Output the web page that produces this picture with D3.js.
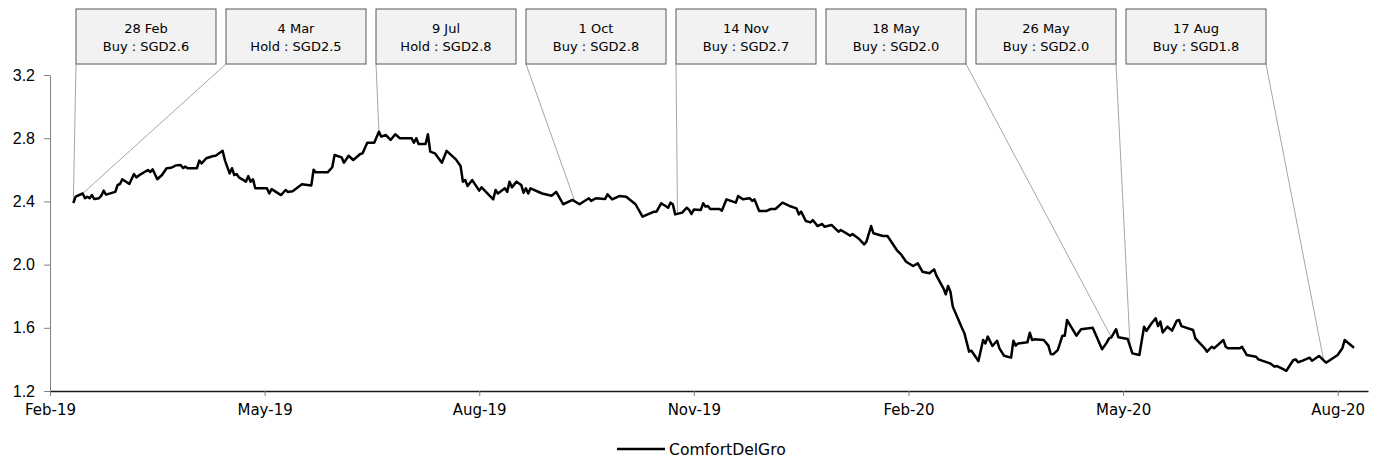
<!DOCTYPE html>
<html>
<head>
<meta charset="utf-8">
<script src="https://cdn.jsdelivr.net/npm/d3@7"></script>
<style>
  body { margin: 0; background: #ffffff; }
  .x-axis text { font-family: "DejaVu Sans", sans-serif; font-size: 15px; fill: #000; }
  .y-axis text { font-family: "Liberation Sans", Arial, sans-serif; font-size: 16px; fill: #000; }
  .note text { font-family: "DejaVu Sans", sans-serif; font-size: 13px; fill: #000; }
</style>
</head>
<body>
<div id="chart"></div>
<script>
//Series data: trading-day offsets from the first close and the closing price (SGD)
var startDate = "2019-02-28";
var dayOffsets = [0, 1, 4, 5, 6, 7, 8, 9, 11, 12, 13, 14, 18, 19, 20, 21, 24, 26, 27, 29, 32, 33, 34, 36, 38, 40, 42, 44, 46, 47, 48, 49, 53, 54, 55, 57, 60, 61, 64, 65, 67, 68, 69, 70, 71, 74, 75, 76, 77, 78, 83, 84, 85, 89, 91, 92, 94, 98, 102, 103, 104, 109, 111, 112, 115, 116, 118, 120, 123, 124, 126, 129, 131, 132, 134, 136, 138, 140, 145, 146, 147, 148, 151, 152, 153, 155, 158, 160, 164, 166, 167, 168, 169, 171, 174, 175, 180, 181, 182, 185, 186, 187, 188, 190, 192, 193, 194, 195, 196, 201, 205, 207, 210, 214, 217, 221, 222, 224, 228, 229, 231, 234, 237, 241, 244, 249, 250, 252, 255, 256, 257, 258, 261, 263, 264, 265, 266, 269, 270, 271, 272, 273, 277, 278, 280, 284, 285, 287, 290, 291, 292, 294, 297, 299, 301, 304, 307, 310, 311, 312, 314, 316, 317, 319, 321, 322, 325, 327, 328, 329, 333, 334, 337, 339, 340, 342, 343, 347, 349, 353, 355, 357, 360, 362, 364, 367, 369, 370, 373, 374, 375, 376, 377, 381, 382, 384, 385, 388, 390, 391, 392, 394, 396, 397, 399, 402, 403, 404, 405, 409, 410, 411, 412, 416, 418, 419, 420, 422, 424, 425, 426, 430, 432, 437, 441, 443, 444, 445, 447, 448, 452, 454, 457, 459, 460, 462, 464, 465, 466, 467, 469, 471, 473, 474, 475, 480, 481, 485, 486, 488, 489, 493, 494, 495, 500, 501, 503, 507, 508, 513, 515, 516, 518, 520, 523, 524, 525, 527, 530, 531, 534, 537, 542, 544, 545, 549];
var closes = [2.39, 2.43, 2.45, 2.42, 2.43, 2.42, 2.44, 2.415, 2.42, 2.436, 2.468, 2.443, 2.46, 2.504, 2.51, 2.54, 2.51, 2.573, 2.552, 2.573, 2.599, 2.586, 2.603, 2.54, 2.567, 2.61, 2.613, 2.628, 2.63, 2.611, 2.62, 2.61, 2.61, 2.658, 2.641, 2.673, 2.687, 2.689, 2.72, 2.66, 2.577, 2.61, 2.567, 2.573, 2.552, 2.525, 2.56, 2.525, 2.54, 2.483, 2.483, 2.45, 2.478, 2.44, 2.472, 2.46, 2.464, 2.508, 2.5, 2.6, 2.584, 2.584, 2.616, 2.694, 2.679, 2.645, 2.689, 2.662, 2.7, 2.704, 2.771, 2.771, 2.841, 2.81, 2.82, 2.789, 2.825, 2.8, 2.8, 2.771, 2.8, 2.763, 2.763, 2.825, 2.715, 2.704, 2.645, 2.72, 2.666, 2.624, 2.525, 2.535, 2.497, 2.535, 2.468, 2.489, 2.413, 2.472, 2.45, 2.483, 2.46, 2.525, 2.489, 2.525, 2.504, 2.455, 2.483, 2.45, 2.483, 2.45, 2.436, 2.46, 2.382, 2.409, 2.382, 2.42, 2.403, 2.42, 2.415, 2.445, 2.413, 2.434, 2.43, 2.382, 2.303, 2.335, 2.335, 2.388, 2.36, 2.392, 2.382, 2.318, 2.329, 2.36, 2.346, 2.32, 2.349, 2.346, 2.388, 2.367, 2.371, 2.352, 2.352, 2.341, 2.413, 2.392, 2.434, 2.413, 2.42, 2.403, 2.413, 2.339, 2.339, 2.352, 2.352, 2.392, 2.371, 2.356, 2.318, 2.335, 2.276, 2.267, 2.282, 2.244, 2.257, 2.24, 2.251, 2.223, 2.208, 2.219, 2.183, 2.194, 2.16, 2.128, 2.145, 2.244, 2.198, 2.181, 2.181, 2.092, 2.061, 2.018, 1.991, 2.008, 1.955, 1.945, 1.97, 1.93, 1.85, 1.812, 1.865, 1.828, 1.734, 1.597, 1.565, 1.449, 1.455, 1.39, 1.523, 1.501, 1.544, 1.485, 1.518, 1.47, 1.423, 1.411, 1.518, 1.487, 1.501, 1.508, 1.569, 1.523, 1.527, 1.523, 1.487, 1.434, 1.432, 1.459, 1.55, 1.55, 1.649, 1.55, 1.591, 1.601, 1.464, 1.506, 1.533, 1.54, 1.591, 1.54, 1.529, 1.438, 1.428, 1.607, 1.58, 1.624, 1.66, 1.611, 1.639, 1.571, 1.607, 1.582, 1.645, 1.649, 1.611, 1.586, 1.533, 1.47, 1.449, 1.48, 1.47, 1.523, 1.48, 1.47, 1.47, 1.48, 1.428, 1.417, 1.4, 1.375, 1.354, 1.358, 1.343, 1.328, 1.396, 1.4, 1.382, 1.392, 1.411, 1.392, 1.422, 1.379, 1.428, 1.47, 1.523, 1.474];

//Axis ticks
var xTickDates = ["2019-02-18", "2019-05-21", "2019-08-21", "2019-11-21", "2020-02-21", "2020-05-23", "2020-08-23"];
var xDomain = ["2019-02-18", "2020-09-05"];
var yTicks = [1.2, 1.6, 2.0, 2.4, 2.8, 3.2];

//Rating call-outs
var noteDates = ["2019-02-28", "2019-03-04", "2019-07-09", "2019-10-01", "2019-11-14", "2020-05-18", "2020-05-26", "2020-08-17"];
var noteLabels = ["28 Feb", "4 Mar", "9 Jul", "1 Oct", "14 Nov", "18 May", "26 May", "17 Aug"];
var noteRatings = ["Buy", "Hold", "Hold", "Buy", "Buy", "Buy", "Buy", "Buy"];
var notePrices = ["2.6", "2.5", "2.8", "2.8", "2.7", "2.0", "2.0", "1.8"];

var seriesName = "ComfortDelGro";

//SVG size
var svgWidth = 1380;
var svgHeight = 461;

var svg = d3.select("#chart")
  .append("svg")
  .attr("width", svgWidth)
  .attr("height", svgHeight);

svg.append("rect")
  .attr("width", svgWidth)
  .attr("height", svgHeight)
  .attr("fill", "#ffffff");

var parseDate = d3.utcParse("%Y-%m-%d");
var start = parseDate(startDate);

var prices = dayOffsets.map(function(d, i) {
  return { date: d3.utcDay.offset(start, d), close: closes[i] };
});

//Scales
var xScale = d3.scaleUtc()
  .domain(xDomain.map(parseDate))
  .range([50, 1368]);

var yScale = d3.scaleLinear()
  .domain([1.2, 3.2])
  .range([391, 75]);

//Y axis
var yAxis = svg.append("g")
  .classed("y-axis", true)
  .attr("transform", "translate(50,0)")
  .call(d3.axisLeft(yScale)
    .tickValues(yTicks)
    .tickFormat(d3.format(".1f"))
    .tickSize(6)
    .tickSizeOuter(0)
    .tickPadding(9));

yAxis.select(".domain").attr("stroke", "#808080");
yAxis.selectAll(".tick line").attr("stroke", "#808080");

//X axis
var xAxis = svg.append("g")
  .classed("x-axis", true)
  .attr("transform", "translate(0,391)")
  .call(d3.axisBottom(xScale)
    .tickValues(xTickDates.map(parseDate))
    .tickFormat(d3.utcFormat("%b-%y"))
    .tickSize(5)
    .tickSizeOuter(0)
    .tickPadding(8));

xAxis.select(".domain").attr("stroke", "#1a1a1a").attr("stroke-width", 1.3);
xAxis.selectAll(".tick line").attr("stroke", "#808080");

//Value on the line at a given date (for the call-out leaders)
var bisect = d3.bisector(function(d) { return d.date; }).left;
function valueAt(date) {
  var i = bisect(prices, date);
  if (i <= 0) return prices[0].close;
  if (i >= prices.length) return prices[prices.length - 1].close;
  var a = prices[i - 1], b = prices[i];
  var t = (date - a.date) / (b.date - a.date);
  return a.close + t * (b.close - a.close);
}

//Call-out boxes laid out in a row
var boxScale = d3.scaleBand()
  .domain(d3.range(noteDates.length))
  .range([76, 1266])
  .paddingInner(0.0667);

var boxTop = 9;
var boxHeight = 55;

var notes = svg.append("g").classed("note", true)
  .selectAll("g")
  .data(noteDates.map(function(d, i) {
    var dt = parseDate(d);
    return { i: i, date: dt, label: noteLabels[i], rating: noteRatings[i], price: notePrices[i], value: valueAt(dt) };
  }))
  .enter()
  .append("g");

//Leader lines from the nearest bottom corner of the box
notes.append("line")
  .attr("x1", function(d) {
    var left = boxScale(d.i), right = left + boxScale.bandwidth();
    return xScale(d.date) > right ? right : left;
  })
  .attr("y1", boxTop + boxHeight)
  .attr("x2", function(d) { return xScale(d.date); })
  .attr("y2", function(d) { return yScale(d.value); })
  .attr("stroke", "#a6a6a6")
  .attr("stroke-width", 1);

notes.append("rect")
  .attr("x", function(d) { return boxScale(d.i); })
  .attr("y", boxTop)
  .attr("width", boxScale.bandwidth())
  .attr("height", boxHeight)
  .attr("fill", "#f2f2f2")
  .attr("stroke", "#595959")
  .attr("stroke-width", 1);

notes.append("text")
  .attr("x", function(d) { return boxScale(d.i) + boxScale.bandwidth() / 2; })
  .attr("y", boxTop + 24)
  .attr("text-anchor", "middle")
  .text(function(d) { return d.label; });

notes.append("text")
  .attr("x", function(d) { return boxScale(d.i) + boxScale.bandwidth() / 2; })
  .attr("y", boxTop + 42)
  .attr("text-anchor", "middle")
  .text(function(d) { return d.rating + " : SGD" + d.price; });

//Price line
var line = d3.line()
  .x(function(d) { return xScale(d.date); })
  .y(function(d) { return yScale(d.close); });

svg.append("path")
  .datum(prices)
  .attr("d", line)
  .attr("fill", "none")
  .attr("stroke", "#000000")
  .attr("stroke-width", 2.5)
  .attr("stroke-linejoin", "round");

//Legend
var legend = svg.append("g").attr("transform", "translate(617,449)");

legend.append("line")
  .attr("x1", 0)
  .attr("x2", 48)
  .attr("stroke", "#000000")
  .attr("stroke-width", 2.5);

legend.append("text")
  .attr("x", 52)
  .attr("y", 0)
  .attr("dy", "0.36em")
  .attr("font-family", "DejaVu Sans, sans-serif")
  .attr("font-size", "15.6px")
  .text(seriesName);
</script>
</body>
</html>
